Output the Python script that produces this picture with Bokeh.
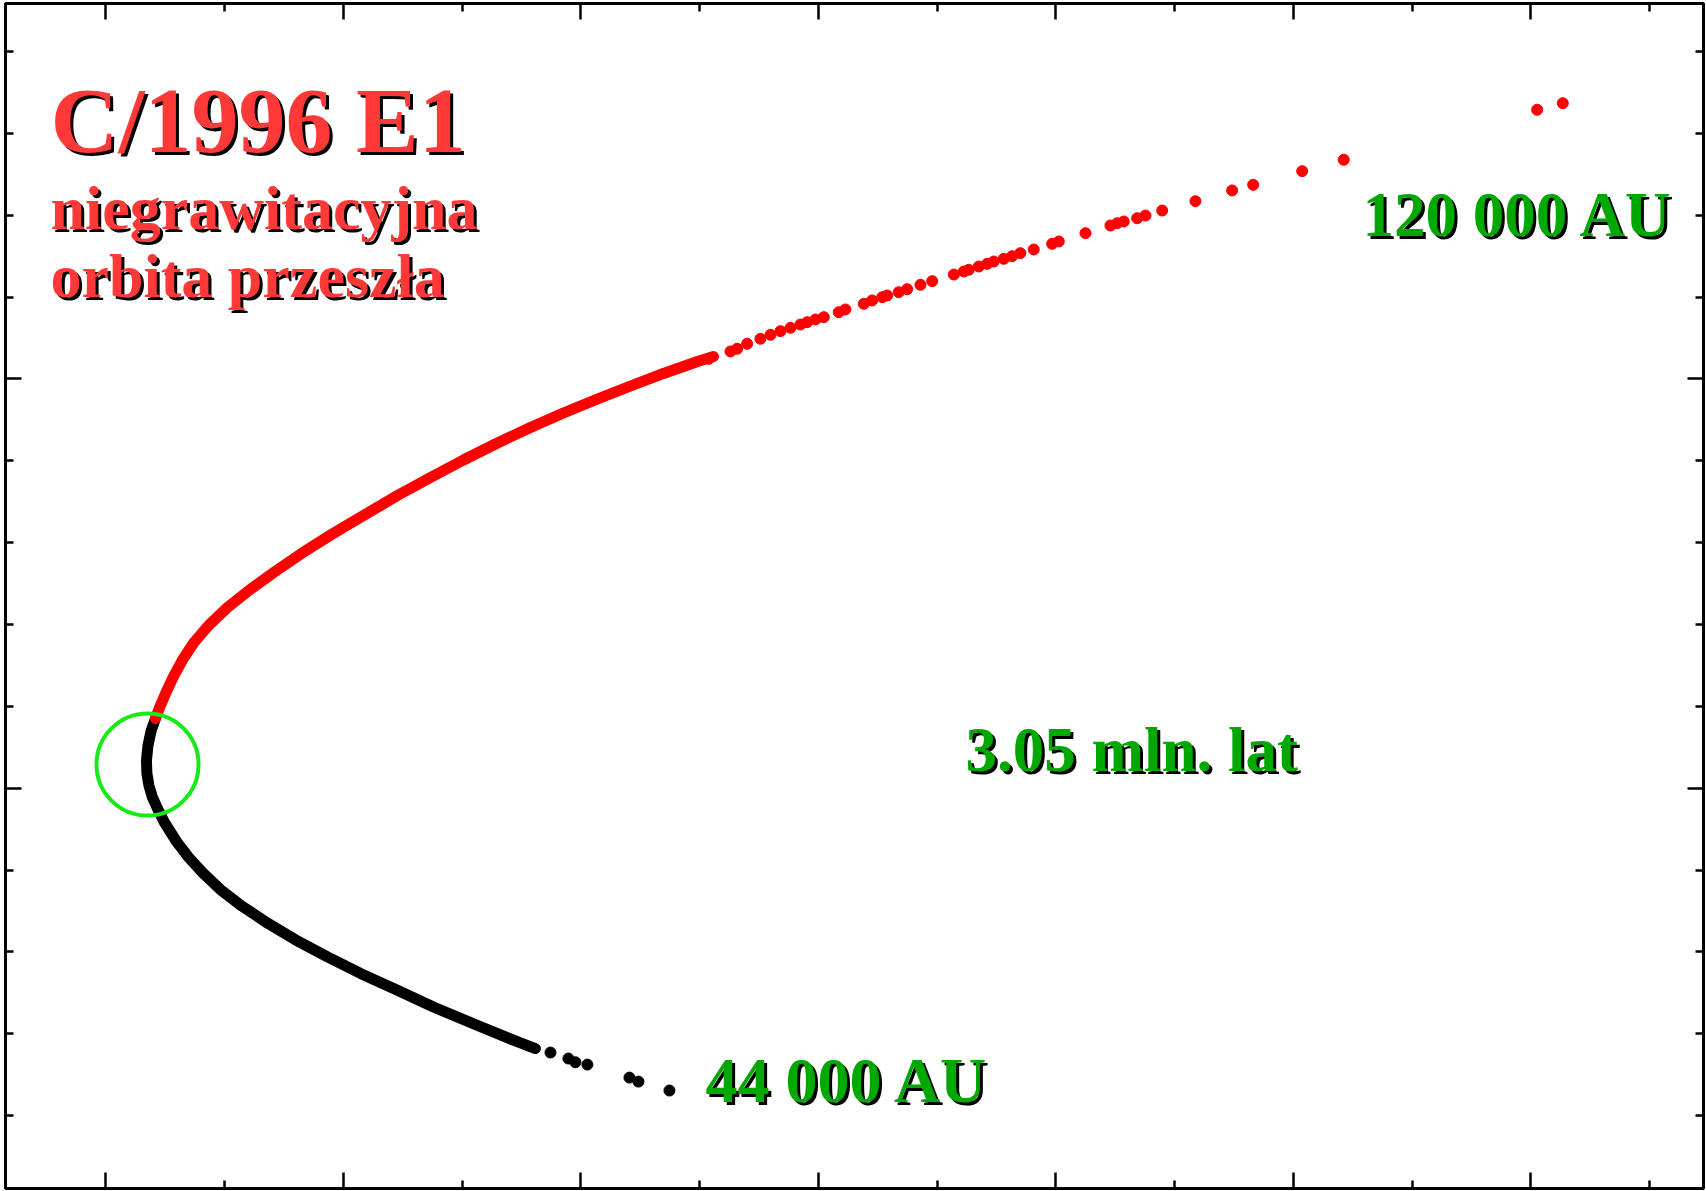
from bokeh.plotting import figure
from bokeh.models import Range1d, FixedTicker, LinearAxis, CustomJSTickFormatter
from bokeh.core.properties import value
from bokeh.embed import file_html
from bokeh.resources import INLINE

# ---- data (arbitrary plot units) ----
# dense part of the past (red) branch, starting at perihelion
red_band_x = [4.17, 4.55, 5.05, 5.69, 6.44, 7.41, 8.68, 10.23, 12.09, 14.19, 16.47,
              18.99, 21.69, 24.55, 27.33, 30.11, 32.97, 35.75, 38.53, 41.40, 44.18,
              46.96, 49.82, 51.17]
red_band_y = [8.52, 9.98, 11.69, 13.65, 15.66, 17.80, 19.94, 22.08, 24.22, 26.42, 28.68,
              31.00, 33.32, 35.76, 37.96, 40.10, 42.18, 44.07, 45.84, 47.55, 49.14,
              50.67, 52.13, 52.74]
# sparse red points
red_x = [50.77, 52.60, 53.16, 54.00, 55.12, 55.97, 56.81, 57.65, 58.49, 59.06, 59.76,
         60.46, 61.72, 62.28, 63.83, 64.53, 65.38, 65.80, 66.77, 67.48, 68.60, 69.59,
         71.41, 72.25, 72.67, 73.51, 74.22, 74.77, 75.62, 76.32, 77.02, 78.14, 79.69,
         80.25, 82.50, 84.60, 85.17, 85.72, 86.85, 87.55, 88.96, 91.76, 94.85, 96.62,
         100.75, 104.25, 120.54, 122.70]
red_y = [52.46, 53.36, 53.69, 54.30, 54.91, 55.40, 55.84, 56.25, 56.65, 56.94, 57.27,
         57.55, 58.16, 58.49, 59.18, 59.59, 59.99, 60.20, 60.60, 60.97, 61.51, 61.95,
         62.76, 63.13, 63.34, 63.74, 64.07, 64.35, 64.68, 65.00, 65.37, 65.82, 66.51,
         66.80, 67.81, 68.75, 69.03, 69.24, 69.64, 69.97, 70.58, 71.72, 73.03, 73.72,
         75.39, 76.78, 82.89, 83.69]
# dense part of the future (black) branch
black_band_x = [4.17, 3.81, 3.54, 3.41, 3.45, 3.62, 3.92, 4.34, 4.93, 5.94, 6.95, 8.13,
                9.64, 11.50, 13.60, 15.96, 18.66, 21.44, 24.55, 27.58, 30.95, 34.32, 36.17]
black_band_y = [8.52, 7.05, 5.22, 3.38, 1.80, 0.33, -1.14, -2.48, -4.19, -6.51, -8.42,
                -10.30, -12.38, -14.45, -16.47, -18.52, -20.60, -22.62, -24.69, -26.72,
                -28.77, -30.78, -31.80]
black_x = [37.44, 38.95, 39.54, 40.55, 44.09, 44.85, 47.46]
black_y = [-32.29, -33.02, -33.48, -33.76, -35.35, -35.84, -36.93]

# perihelion marker
peri_x = [3.50]
peri_y = [2.90]

# annotations
title_lines = ["C/1996 E1", "niegrawitacyjna", "orbita przeszła"]
title_x = [-4.67, -4.67, -4.67]
title_y = [81.60, 70.86, 62.56]
title_sizes = ["94px", "62px", "62px"]
note_text = ["120 000 AU", "3.05 mln. lat", "44 000 AU"]
note_x = [105.83, 72.39, 50.49]
note_y = [70.09, 4.63, -35.70]
note_sizes = ["63px", "63px", "64px"]

x_major = [0, 20, 40, 60, 80, 100, 120]
x_minor = [10, 30, 50, 70, 90, 110, 130]
y_major = [0, 50]
y_minor = [-40, -30, -20, -10, 10, 20, 30, 40, 60, 70, 80, 90]

# ---- figure ----
p = figure(width=1706, height=1191, output_backend="svg", toolbar_location=None,
           x_range=Range1d(-8.46, 134.55), y_range=Range1d(-48.9, 95.87),
           x_axis_location=None, y_axis_location=None,
           min_border_left=5, min_border_right=3, min_border_top=3, min_border_bottom=3)
p.xgrid.visible = False
p.ygrid.visible = False
p.background_fill_color = "white"
p.border_fill_color = "white"
p.outline_line_color = "black"
p.outline_line_width = 3


def style_axis(ax):
    ax.formatter = CustomJSTickFormatter(code="return '';")
    ax.major_label_text_font_size = "1px"
    ax.major_label_standoff = 0
    ax.major_tick_out = 0
    ax.minor_tick_out = 0
    ax.major_tick_in = 16
    ax.minor_tick_in = 8
    ax.major_tick_line_width = 2.5
    ax.minor_tick_line_width = 2.5
    ax.major_tick_line_color = "black"
    ax.minor_tick_line_color = "black"
    ax.axis_line_width = 3
    ax.axis_line_color = "black"


for loc in ["below", "above"]:
    ax = LinearAxis(ticker=FixedTicker(ticks=x_major, minor_ticks=x_minor))
    style_axis(ax)
    p.add_layout(ax, loc)
for loc in ["left", "right"]:
    ax = LinearAxis(ticker=FixedTicker(ticks=y_major, minor_ticks=y_minor))
    style_axis(ax)
    p.add_layout(ax, loc)

# orbit
p.line(black_band_x, black_band_y, line_color="black", line_width=11,
       line_cap="round", line_join="round")
p.scatter(black_x, black_y, size=11, color="black")
p.line(red_band_x, red_band_y, line_color="#ff0000", line_width=11,
       line_cap="round", line_join="round")
p.scatter(red_x, red_y, size=11, color="#ff0000")

# perihelion circle
p.scatter(peri_x, peri_y, size=102, fill_color=None, line_color="#18ea18", line_width=4)

font = value("Liberation Serif")
for t, x, y, s in zip(title_lines, title_x, title_y, title_sizes):
    p.text([x], [y], text=[t], text_font=font, text_font_style="bold",
           text_font_size=s, text_color="black", text_baseline="alphabetic",
           x_offset=3, y_offset=3)
    p.text([x], [y], text=[t], text_font=font, text_font_style="bold",
           text_font_size=s, text_color="#ff3838", text_baseline="alphabetic")

for t, x, y, s in zip(note_text, note_x, note_y, note_sizes):
    p.text([x], [y], text=[t], text_font=font, text_font_style="bold",
           text_font_size=s, text_color="black", text_baseline="alphabetic",
           x_offset=3, y_offset=3)
    p.text([x], [y], text=[t], text_font=font, text_font_style="bold",
           text_font_size=s, text_color="#00a800", text_baseline="alphabetic")

open("out.html", "w").write(file_html(p, INLINE))
